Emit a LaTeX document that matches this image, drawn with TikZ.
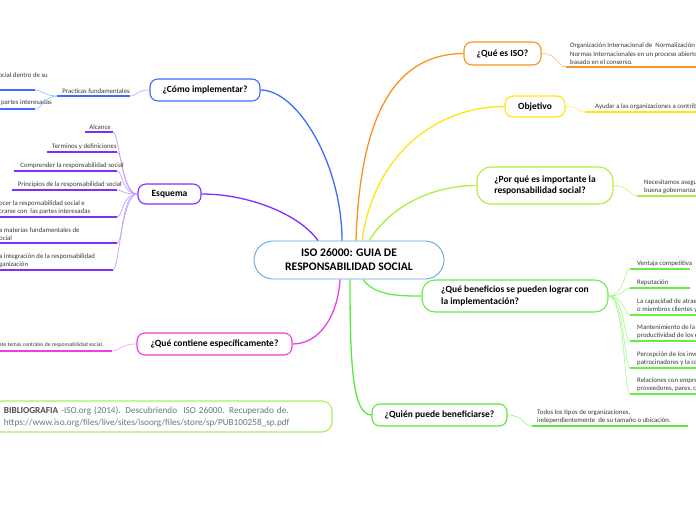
\documentclass[tikz,border=0pt]{standalone}
\usepackage{fontspec}
\setmainfont{Carlito}
\definecolor{corange}{HTML}{F7941D}
\definecolor{cyellow}{HTML}{FFE414}
\definecolor{cygreen}{HTML}{B0EE3A}
\definecolor{cgreen}{HTML}{66EE44}
\definecolor{cgreen2}{HTML}{5BE83A}
\definecolor{cmag}{HTML}{E840E8}
\definecolor{cpurp}{HTML}{7F2EFF}
\definecolor{cblue}{HTML}{3F6BFF}
\definecolor{ccenter}{HTML}{5BA8E3}
\definecolor{cbib}{HTML}{A5F061}
\definecolor{cbibtext}{HTML}{5E8070}
\begin{document}
\begin{tikzpicture}[x=1pt,y=-1pt,
  box/.style={draw, rounded corners=8pt, line width=1.1pt, fill=white,
    font=\fontsize{9.5}{11.5}\selectfont\bfseries, inner sep=0pt},
  main/.style={line width=1.3pt},
  sub/.style={line width=0.7pt},
  uline/.style={line width=1.4pt},
  leaf/.style={inner sep=0pt, align=left, font=\fontsize{6.8}{8.4}\selectfont, text=black!78},
]
\useasboundingbox (0,0) rectangle (696,520);
\clip (0,0) rectangle (696,520);

% ---------- main nodes
\node[box, draw=ccenter, line width=0.9pt, rounded corners=19pt, minimum width=190pt, minimum height=38pt,
  font=\fontsize{11.6}{14}\selectfont\bfseries, align=center] (c) at (349,260) {ISO 26000: GUIA DE\\RESPONSABILIDAD SOCIAL};
\node[box, draw=corange, minimum width=77pt, minimum height=23pt] (iso) at (502.5,53.5) {¿Qué es ISO?};
\node[box, draw=cyellow, minimum width=60pt, minimum height=21pt] (obj) at (535,106.5) {Objetivo};
\node[box, draw=cygreen, rounded corners=14pt, minimum width=136pt, minimum height=37pt, align=left] (por) at (545,185.5) {¿Por qué es importante la\\responsabilidad social?};
\node[box, draw=cgreen, rounded corners=13pt, minimum width=186pt, minimum height=32pt, align=left] (ben) at (515,296) {¿Qué beneficios se pueden lograr con\\la implementación?};
\node[box, draw=cgreen2, minimum width=135pt, minimum height=22pt] (qui) at (439.5,415) {¿Quién puede beneficiarse?};
\node[box, draw=cblue, minimum width=110pt, minimum height=22pt] (como) at (205,90) {¿Cómo implementar?};
\node[box, draw=cpurp, minimum width=63pt, minimum height=20pt] (esq) at (169.5,194) {Esquema};
\node[box, draw=cmag, minimum width=155pt, minimum height=22pt] (cont) at (214.5,344) {¿Qué contiene específicamente?};
\node[box, draw=cbib, rounded corners=10pt, minimum width=342pt, minimum height=31pt, text width=314pt, align=left,
  font=\fontsize{9.2}{12}\selectfont, text=cbibtext] (bib) at (161,416.5)
  {\textbf{\textcolor{black!70}{BIBLIOGRAFIA}} -ISO.org (2014). Descubriendo\ \ ISO 26000. Recuperado de.\\https://www.iso.org/files/live/sites/isoorg/files/store/sp/PUB100258\_sp.pdf};

% ---------- main connectors
\draw[main, cpurp] ([xshift=-31pt]c.north) .. controls (300,215) and (250,194) .. (esq.east);
\draw[main, cblue] ([xshift=-7pt]c.north) .. controls (342,165) and (298,90) .. (como.east);
\draw[main, corange] ([xshift=7pt]c.north) .. controls (360,120) and (392,54) .. (iso.west);
\draw[main, cyellow] ([xshift=13pt]c.north) .. controls (375,150) and (440,106.5) .. (obj.west);
\draw[main, cygreen] ([xshift=20pt]c.north) .. controls (395,200) and (440,185.5) .. (por.west);
\draw[main, cmag] ([xshift=-9pt]c.south) .. controls (338,315) and (320,344) .. (cont.east);
\draw[main, cgreen2] ([xshift=1pt]c.south) .. controls (350,360) and (352,415) .. (qui.west);
\draw[main, cgreen] ([xshift=14pt]c.south) .. controls (375,296) and (400,296) .. (ben.west);

% ---------- right leaves
\coordinate (isoU) at (566,67);
\node[leaf, anchor=south west] (isoL) at (570,65) {Organización Internacional de\ \ Normalización\\Normas Internacionales en un proceso abierto\\basado en el conserso.};
\draw[sub, corange!55] (iso.east) .. controls +(16,0) and +(-8,0) .. (isoU);
\draw[uline, corange] (isoU) -- (700,67);

\coordinate (objU) at (585,112);
\node[leaf, anchor=south west] (objL) at (595,110) {Ayudar a las organizaciones a contribuir};
\draw[sub, cyellow!60] (obj.east) .. controls +(16,0) and +(-8,0) .. (objU);
\draw[uline, cyellow] (objU) -- (700,112);

\coordinate (porU) at (637,196);
\node[leaf, anchor=south west] (porL) at (644,194) {Necesitamos asegurar\\buena gobernanza};
\draw[sub, cygreen!60] (por.east) .. controls +(16,0) and +(-8,0) .. (porU);
\draw[uline, cygreen] (porU) -- (700,196);

\foreach \n/\y/\xe/\t in {
  b1/269/690/{Ventaja competitiva},
  b2/288/690/{Reputación},
  b3/315/700/{La capacidad de atraer\\o miembros clientes y},
  b4/341/700/{Mantenimiento de la moral\\productividad de los empleados},
  b5/368/700/{Percepción de los inversores\\patrocinadores y la comunidad},
  b6/394/700/{Relaciones con empresas\\proveedores, pares, clientes}}{
  \coordinate (\n U) at (630,\y);
  \node[leaf, anchor=south west] (\n) at (637,\y-2) {\t};
  \draw[sub, cgreen!55] (ben.east) .. controls +(16,0) and +(-6,0) .. (\n U);
  \draw[uline, cgreen] (\n U) -- (\xe,\y);
}

\coordinate (quiU) at (532,426);
\node[leaf, anchor=south west] (quiL) at (537,424) {Todos los tipos de organizaciones,\\independientemente\ \ de su tamaño o ubicación.};
\draw[sub, cgreen2!55] (qui.east) .. controls +(16,0) and +(-8,0) .. (quiU);
\draw[uline, cgreen2] (quiU) -- (688,426);

% ---------- left leaves
\coordinate (pfU) at (130,96);
\coordinate (pfS) at (57,96);
\node[leaf, anchor=south east] (pf) at (130,94) {Practicas fundamentales};
\draw[sub, cblue!45] (como.west) .. controls +(-14,0) and +(8,0) .. (pfU);
\draw[uline, cblue] (pfS) -- (pfU);
\coordinate (l1U) at (35,90);
\coordinate (l2U) at (35,109);
\node[leaf, anchor=south east] (l1) at (48,78) {ocial dentro de su};
\node[leaf, anchor=south east] (l2) at (52,106) {partes interesadas};
\draw[sub, cblue!45] (pfS) .. controls +(-12,0) and +(6,0) .. (l1U);
\draw[sub, cblue!45] (pfS) .. controls +(-12,0) and +(6,0) .. (l2U);
\draw[uline, cblue] (l1U) -- (-5,90);
\draw[uline, cblue] (l2U) -- (-5,109);

\foreach \n/\y/\xs/\xe/\xt/\t in {
  e1/132/85/113/111/{Alcance},
  e2/152/47/117/117/{Terminos y definiciones},
  e3/171/14/117/124/{Comprender la responsabilidad social},
  e4/190/12/117/122/{Principios de la responsabilidad social}}{
  \coordinate (\n U) at (\xe,\y);
  \node[leaf, anchor=south east] (\n) at (\xt,\y-2) {\t};
  \draw[sub, cpurp!45] (esq.west) .. controls +(-16,0) and +(6,0) .. (\n U);
  \draw[uline, cpurp] (\n U) -- (\xs,\y);
}
\foreach \n/\y/\xe/\t in {
  e5/217/117/{ocer la responsabilidad social e\\crarse con\ \ las partes interesadas},
  e6/243/117/{a materias fundamentales de\\ocial},
  e7/270/113/{a integración de la responsabilidad\\ganización}}{
  \coordinate (\n U) at (\xe,\y);
  \node[leaf, anchor=south west] (\n) at (-1,\y-2) {\t};
  \draw[sub, cpurp!45] (esq.west) .. controls +(-16,0) and +(6,0) .. (\n U);
  \draw[uline, cpurp] (\n U) -- (-5,\y);
}

\coordinate (coU) at (112,351);
\node[leaf, anchor=south west, font=\fontsize{5.6}{7}\selectfont] (coL) at (-1,348) {ate temas centrales de responsabilidad social.};
\draw[sub, cmag!45] (cont.west) .. controls +(-16,0) and +(8,0) .. (coU);
\draw[uline, cmag] (coU) -- (-5,351);
\end{tikzpicture}
\end{document}
